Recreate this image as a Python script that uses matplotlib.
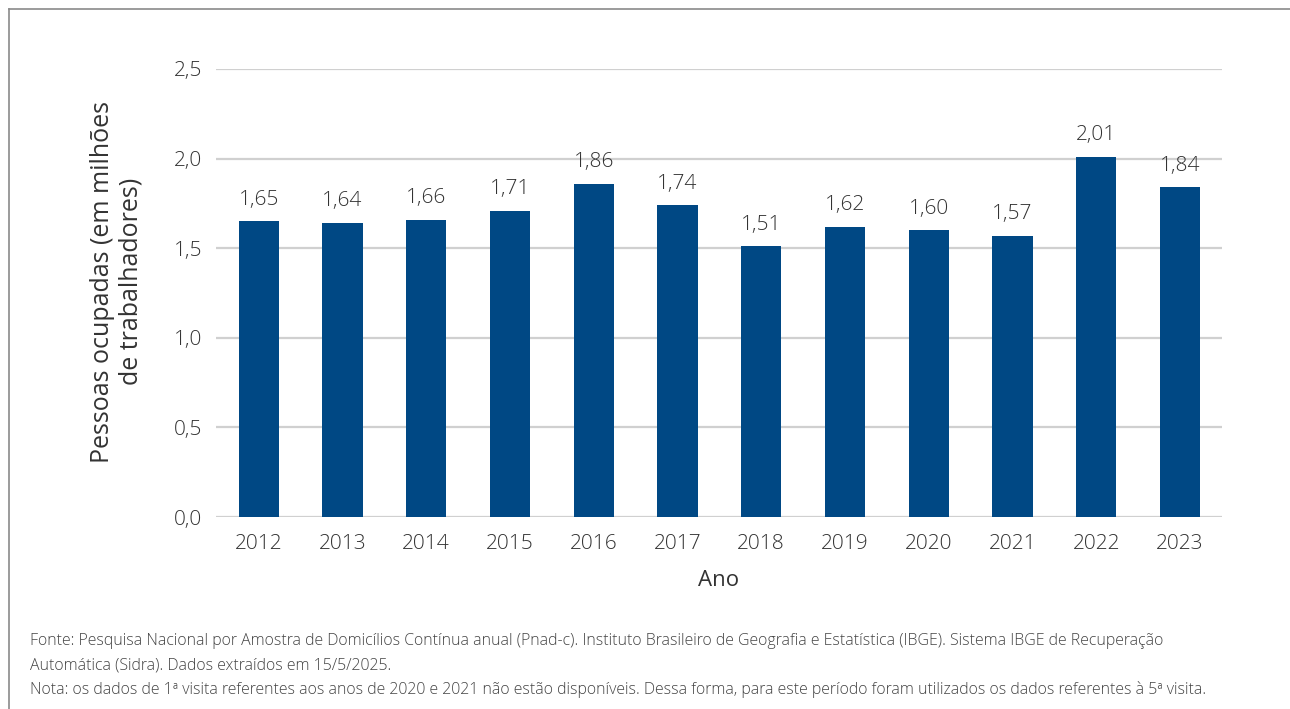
import matplotlib.pyplot as plt
from matplotlib.lines import Line2D

# data
anos = ['2012', '2013', '2014', '2015', '2016', '2017', '2018', '2019', '2020', '2021', '2022', '2023']
ocupados = [1.65, 1.64, 1.66, 1.71, 1.86, 1.74, 1.51, 1.62, 1.60, 1.57, 2.01, 1.84]
y_ticks = [0.0, 0.5, 1.0, 1.5, 2.0, 2.5]

plt.rcParams['font.family'] = ['Open Sans', 'DejaVu Sans']
plt.rcParams['font.weight'] = 'light'
txt_color = '#333333'
bar_color = '#004884'

fig = plt.figure(figsize=(12.9, 7.09), dpi=100)
ax = fig.add_axes([0.1674, 0.2708, 0.7798, 0.6319])

x = range(len(anos))
ax.bar(x, ocupados, width=0.48, color=bar_color, zorder=3)
for xi, v in zip(x, ocupados):
    ax.text(xi, v + 0.065, f"{v:.2f}".replace('.', ','), ha='center', va='bottom',
            fontsize=15, color=txt_color)

ax.set_xlim(-0.51, 11.5)
ax.set_ylim(0, 2.5)
ax.set_xticks(list(x))
ax.set_xticklabels(anos, fontsize=15, color=txt_color)
ax.set_yticks(y_ticks)
ax.set_yticklabels([f"{t:.1f}".replace('.', ',') for t in y_ticks], fontsize=15, color=txt_color)
ax.tick_params(length=0, pad=10)
ax.tick_params(axis='x', pad=12)
ax.grid(axis='y', color='#d0d0d0', linewidth=1.6, zorder=0)
for s in ax.spines.values():
    s.set_visible(False)

ax.set_xlabel('Ano', fontsize=16, color=txt_color, labelpad=12)
ax.set_ylabel('Pessoas ocupadas (em milhões\nde trabalhadores)', fontsize=18,
              color=txt_color, labelpad=22, linespacing=1.15)
ax.yaxis.label.set_y(0.525)

# frame on top and left
fig.add_artist(Line2D([9 / 1290, 9 / 1290], [0, 1 - 9 / 709], color='#8a8a8a', lw=1.2))
fig.add_artist(Line2D([9 / 1290, 1], [1 - 9 / 709, 1 - 9 / 709], color='#8a8a8a', lw=1.2))

notas = [
    'Fonte: Pesquisa Nacional por Amostra de Domicílios Contínua anual (Pnad-c). Instituto Brasileiro de Geografia e Estatística (IBGE). Sistema IBGE de Recuperação',
    'Automática (Sidra). Dados extraídos em 15/5/2025.',
    'Nota: os dados de 1ª visita referentes aos anos de 2020 e 2021 não estão disponíveis. Dessa forma, para este período foram utilizados os dados referentes à 5ª visita.',
]
for i, linha in enumerate(notas):
    fig.text(30 / 1290, 1 - (641 + i * 24.5) / 709, linha, fontsize=11.4, color='#444444',
             ha='left', va='center')

fig.savefig('out.png', dpi=100)
